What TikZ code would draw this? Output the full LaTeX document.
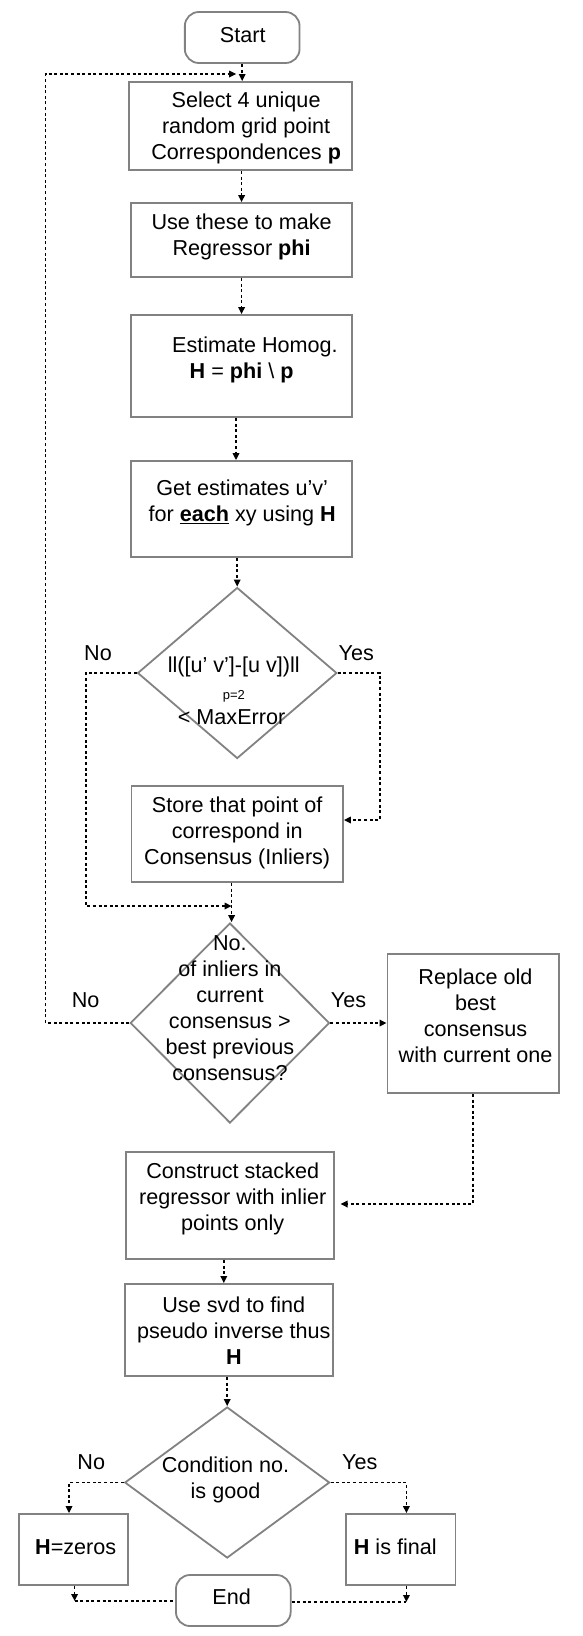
\documentclass[tikz,border=0pt]{standalone}
\usepackage{fontspec}
\setmainfont{Liberation Sans}
\usetikzlibrary{shapes.geometric,arrows.meta,calc}
\definecolor{bcol}{RGB}{130,130,130}
\tikzset{
  box/.style={draw=bcol, line width=1.8pt, inner sep=0pt, rectangle},
  term/.style={box, rounded corners=14pt},
  dia/.style={draw=bcol, line width=1.8pt, inner sep=0pt, diamond},
  txt/.style={inner sep=0pt, align=center, font=\fontsize{21.6}{26}\selectfont},
  lbl/.style={inner sep=0pt, font=\fontsize{21.6}{26}\selectfont},
  conn/.style={draw=black, line width=1.6pt, dash pattern=on 3pt off 2.6pt},
  arr/.style={conn, -{Triangle[length=7pt,width=6.5pt]}}
}
\begin{document}
\begin{tikzpicture}[x=1pt,y=-1pt]
\fill[white] (0,0) rectangle (582,1636);
\useasboundingbox (0,0) rectangle (582,1636);

% shapes
\node[term, minimum width=114.7pt, minimum height=51pt] (start) at (242.2,37.5) {};
\node[box, minimum width=222.7pt, minimum height=88pt] (b1) at (240.5,126) {};
\node[box, minimum width=220.5pt, minimum height=74pt] (b2) at (241.6,240) {};
\node[box, minimum width=220.5pt, minimum height=102pt] (b3) at (241.6,366) {};
\node[box, minimum width=220.5pt, minimum height=96pt] (b4) at (241.6,509) {};
\node[dia, minimum width=199.3pt, minimum height=171pt] (d1) at (237.2,673) {};
\node[box, minimum width=211.6pt, minimum height=96pt] (b5) at (237.2,834) {};
\node[dia, minimum width=199.3pt, minimum height=200pt] (d2) at (229.9,1023) {};
\node[box, minimum width=171.5pt, minimum height=139pt] (b6) at (473.2,1023.5) {};
\node[box, minimum width=208.2pt, minimum height=107pt] (b7) at (229.9,1205.5) {};
\node[box, minimum width=208.2pt, minimum height=92pt] (b8) at (228.8,1330) {};
\node[dia, minimum width=204.9pt, minimum height=151pt] (d3) at (227.2,1482.5) {};
\node[box, minimum width=109.1pt, minimum height=71pt] (b9) at (73.5,1549.5) {};
\node[box, minimum width=109.1pt, minimum height=71pt] (b10) at (400.9,1549.5) {};
\node[term, minimum width=114.7pt, minimum height=51pt] (end) at (233.3,1600.5) {};

% texts
\node[txt] (tstart) at (242.7,35) {Start};
\node[txt] (t1) at (246.1,128) {Select 4 unique\\random grid point\\Correspondences \textbf{p}};
\node[txt] (t2) at (241.6,237) {Use these to make\\Regressor \textbf{phi}};
\node[txt] (t3) at (241.6,360) {\hspace*{26.7pt}Estimate Homog.\\\textbf{H} = \textbf{phi} \textbackslash\ \textbf{p}};
\node[txt] (t4) at (242.2,503) {Get estimates u’v’\\for \underline{\textbf{each}} xy using \textbf{H}};
\node[txt] (t5a) at (233.8,667) {ll([u’ v’]-[u v])ll};
\node[inner sep=0pt, font=\fontsize{13}{15}\selectfont] (t5b) at (233.8,696) {p=2};
\node[txt] (t5c) at (231.6,717) {< MaxError};
\node[txt] (t6) at (237.2,833) {Store that point of\\correspond in\\Consensus (Inliers)};
\node[txt] (t7) at (229.9,1008.5) {No.\\of inliers in\\current\\consensus >\\best previous\\consensus?};
\node[txt] (t8) at (475.5,1016) {Replace old\\best\\consensus\\with current one};
\node[txt] (t9) at (232.7,1199) {Construct stacked\\regressor with inlier\\points only};
\node[txt] (t10) at (233.8,1331) {Use svd to find\\pseudo inverse thus\\\textbf{H}};
\node[txt] (t11) at (225.5,1479.5) {Condition no.\\is good};
\node[txt] (t12) at (75.7,1547) {\textbf{H}=zeros};
\node[txt] (t13) at (395.3,1547) {\textbf{H} is final};
\node[txt] (tend) at (231.6,1597) {End};

% labels
\node[lbl] (no1) at (98,653) {No};
\node[lbl] (yes1) at (356.3,653) {Yes};
\node[lbl] (no2) at (85.7,1000) {No};
\node[lbl] (yes2) at (348.5,1000) {Yes};
\node[lbl] (no3) at (91.3,1462) {No};
\node[lbl] (yes3) at (359.7,1462) {Yes};

% helper coordinates
\coordinate (y1a) at (379.7,673);
\coordinate (y1b) at (379.7,820);
\coordinate (n1a) at (85.7,673);
\coordinate (n1b) at (85.7,906);
\coordinate (n2a) at (45.5,1023);
\coordinate (n2b) at (45.5,74);
\coordinate (r1) at (473.2,1204);
\coordinate (e1) at (74.6,1601);
\coordinate (e2) at (406.4,1602);

% connectors
\draw[arr] (start.south) -- (start.south |- b1.north);
\draw[arr] (b1.south -| b2.north) -- (b2.north);
\draw[arr] (b2.south) -- (b3.north);
\draw[arr] ([xshift=-5.6pt]b3.south) -- ([xshift=-5.6pt]b4.north);
\draw[arr] (b4.south -| d1.north) -- (d1.north);
\draw[arr] (d1.east) -- (y1a) -- (y1b) -- (y1b -| b5.east);
\draw[arr] (d1.west) -- (n1a) -- (n1b) -- ([xshift=1.7pt]n1b -| d2.north);
\draw[arr] ([xshift=1.7pt]b5.south -| d2.north) -- ([xshift=1.7pt]d2.north);
\draw[arr] (d2.west) -- (n2a) -- (n2b) -- ([xshift=-6pt]n2b -| start.south);
\draw[arr] (d2.east) -- (b6.west |- d2.east);
\draw[arr, shorten >=5.6pt] (b6.south) -- (r1) -- (r1 -| b7.east);
\draw[arr] ([xshift=-6.1pt]b7.south) -- ([xshift=-6.1pt]b7.south |- b8.north);
\draw[arr] (b8.south -| d3.north) -- (d3.north);
\draw[arr] (d3.west) -| ([xshift=-4.5pt]b9.north);
\draw[arr] (d3.east) -| ([xshift=5.5pt]b10.north);
\draw[arr] (b9.south -| e1) -- (e1);
\draw[conn] (e1) -- (e1 -| end.west);
\draw[arr] (b10.south -| e2) -- (e2);
\draw[conn] (end.east |- e2) -- (e2);
\end{tikzpicture}
\end{document}
